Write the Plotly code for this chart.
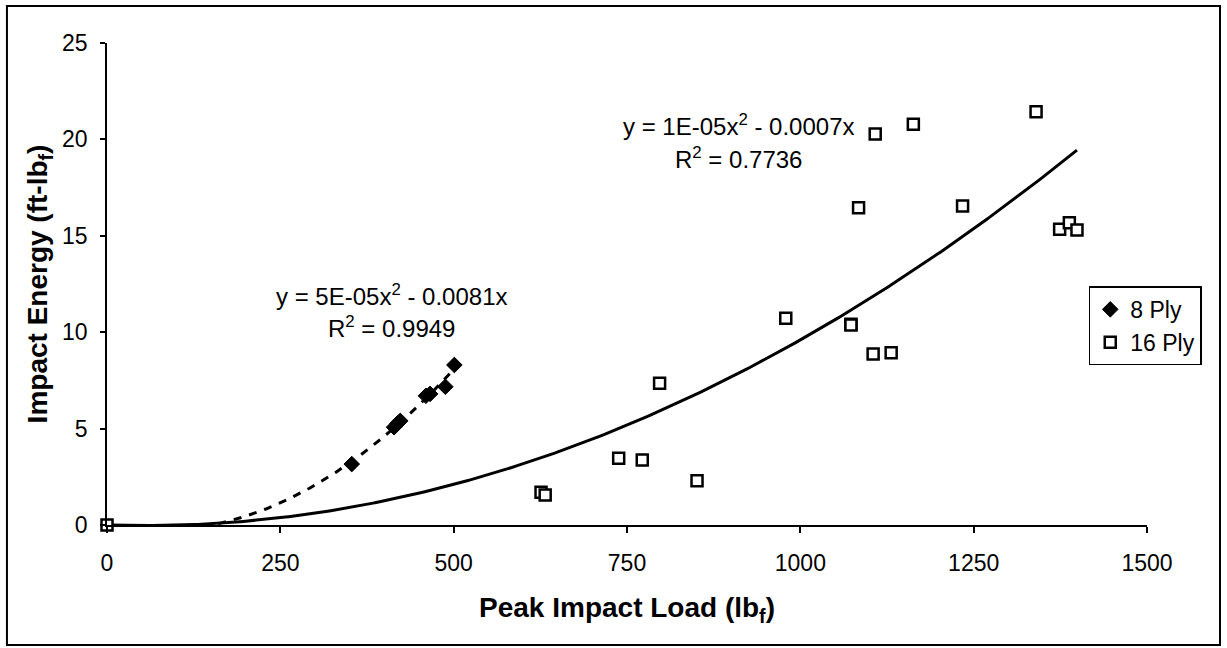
import numpy as np
import plotly.graph_objects as go

# ---- data ----
ply8_load = [353, 414, 419, 423, 460, 466, 488, 501]
ply8_energy = [3.16, 5.07, 5.27, 5.40, 6.70, 6.80, 7.17, 8.30]

ply16_load = [0, 626, 632, 738, 772, 797, 851, 979, 1073, 1073, 1084, 1105, 1108,
              1131, 1163, 1234, 1340, 1374, 1388, 1399]
ply16_energy = [0, 1.70, 1.56, 3.46, 3.37, 7.35, 2.30, 10.72, 10.41, 10.37, 16.46, 8.87,
                20.28, 8.94, 20.78, 16.55, 21.44, 15.34, 15.68, 15.30]

x_ticks = [0, 250, 500, 750, 1000, 1250, 1500]
y_ticks = [0, 5, 10, 15, 20, 25]

eq8_text = ["y = 5E-05x<sup>2</sup> - 0.0081x", "R<sup>2</sup> = 0.9949"]
eq16_text = ["y = 1E-05x<sup>2</sup> - 0.0007x", "R<sup>2</sup> = 0.7736"]


def fit_through_origin(x, y):
    x = np.asarray(x, float)
    y = np.asarray(y, float)
    A = np.column_stack([x ** 2, x])
    coef, *_ = np.linalg.lstsq(A, y, rcond=None)
    return coef


c8 = fit_through_origin(ply8_load, ply8_energy)
c16 = fit_through_origin(ply16_load, ply16_energy)

xt8 = np.linspace(0, max(ply8_load), 200)
yt8 = c8[0] * xt8 ** 2 + c8[1] * xt8
xt16 = np.linspace(0, max(ply16_load), 300)
yt16 = c16[0] * xt16 ** 2 + c16[1] * xt16

FONT = "Liberation Sans, Arial, sans-serif"

fig = go.Figure()
fig.add_trace(go.Scatter(x=xt8, y=yt8, mode="lines", showlegend=False,
                         line=dict(color="black", width=3, dash="8px,8px"),
                         hoverinfo="skip"))
fig.add_trace(go.Scatter(x=xt16, y=yt16, mode="lines", showlegend=False,
                         line=dict(color="black", width=3), hoverinfo="skip"))
fig.add_trace(go.Scatter(x=ply8_load, y=ply8_energy, mode="markers", name="8 Ply",
                         cliponaxis=False,
                         marker=dict(symbol="diamond", size=12, color="black",
                                     line=dict(color="black", width=1))))
fig.add_trace(go.Scatter(x=ply16_load, y=ply16_energy, mode="markers", name="16 Ply",
                         cliponaxis=False,
                         marker=dict(symbol="square", size=11, color="white",
                                     line=dict(color="black", width=2.5))))

ann = []
for txt, yy in zip(eq8_text, [11.93, 10.29]):
    ann.append(dict(x=411, y=yy, xref="x", yref="y", text=txt, showarrow=False,
                    font=dict(size=24, color="black", family=FONT),
                    xanchor="center", yanchor="middle"))
for txt, yy in zip(eq16_text, [20.75, 19.04]):
    ann.append(dict(x=911, y=yy, xref="x", yref="y", text=txt, showarrow=False,
                    font=dict(size=24, color="black", family=FONT),
                    xanchor="center", yanchor="middle"))

fig.update_layout(
    width=1227, height=648,
    margin=dict(l=107, r=80, t=43, b=123),
    paper_bgcolor="white", plot_bgcolor="white",
    font=dict(family=FONT, color="black", size=23),
    annotations=ann,
    showlegend=True,
    legend=dict(x=0.944, y=0.495, xanchor="left", yanchor="top",
                bordercolor="black", borderwidth=1.5, bgcolor="white",
                font=dict(size=23, family=FONT, color="black"),
                itemwidth=30, tracegroupgap=0),
    shapes=[dict(type="rect", xref="paper", yref="paper",
                 x0=-0.0962, x1=1.0702, y0=-0.249, y1=1.0768,
                 line=dict(color="black", width=2), layer="below")],
    xaxis=dict(range=[0, 1500], tickvals=x_ticks, showgrid=False, zeroline=False,
               showline=True, linecolor="black", linewidth=1.5,
               ticks="outside", ticklen=6, tickcolor="black", tickwidth=1.5,
               tickfont=dict(size=23, family=FONT, color="black"),
               ticklabelstandoff=11,
               title=dict(text="<b>Peak Impact Load (lb<sub>f</sub>)</b>",
                          font=dict(size=28, family=FONT, color="black"),
                          standoff=22)),
    yaxis=dict(range=[0, 25], tickvals=y_ticks, showgrid=False, zeroline=False,
               showline=True, linecolor="black", linewidth=1.5,
               ticks="outside", ticklen=5, tickcolor="black", tickwidth=1.5,
               tickfont=dict(size=23, family=FONT, color="black"),
               ticklabelstandoff=8,
               title=dict(text="<b>Impact Energy (ft-lb<sub>f</sub>)</b>",
                          font=dict(size=28, family=FONT, color="black"),
                          standoff=6)),
)

fig.write_html("out.html")
